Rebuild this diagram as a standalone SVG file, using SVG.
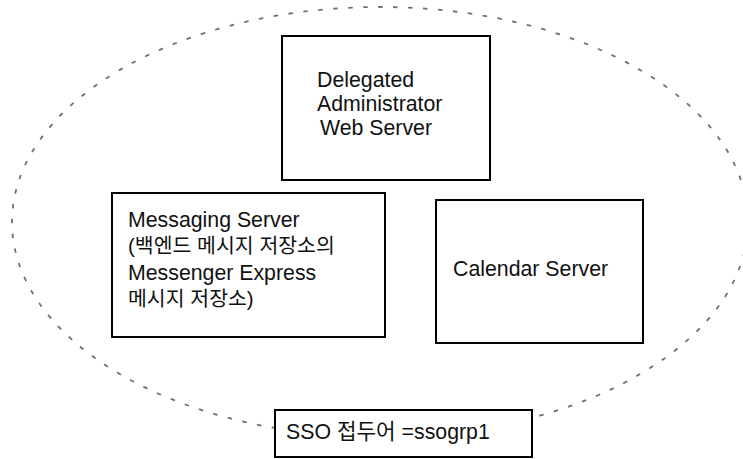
<svg xmlns="http://www.w3.org/2000/svg" width="743" height="459" viewBox="0 0 743 459">
<style>
.box{fill:#fff;stroke:#000;stroke-width:2}
.t{font-family:"Liberation Sans","Noto Sans CJK KR",sans-serif;font-size:21.3px;fill:#111}
.k{font-size:20.5px}
.ring{fill:none;stroke:#707070;stroke-width:1.8;stroke-dasharray:4.5 10.5}
</style>
<rect width="743" height="459" fill="#fff"/>
<g id="connectors">
<ellipse class="ring" cx="380" cy="222" rx="368" ry="215"/>
</g>
<g id="delegated">
<rect class="box" x="282" y="36" width="208" height="144"/>
<text class="t" x="317" y="87">Delegated</text>
<text class="t" x="317" y="111">Administrator</text>
<text class="t" x="320" y="135">Web Server</text>
</g>
<g id="messaging">
<rect class="box" x="112" y="193" width="273" height="144"/>
<text class="t" x="128" y="227">Messaging Server</text>
<text class="t k" x="128" y="253">(백엔드 메시지 저장소의</text>
<text class="t" x="128" y="280">Messenger Express</text>
<text class="t k" x="128" y="306">메시지 저장소)</text>
</g>
<g id="calendar">
<rect class="box" x="436" y="200" width="207" height="143"/>
<text class="t" x="453" y="276">Calendar Server</text>
</g>
<g id="sso">
<rect class="box" x="275" y="410" width="257" height="47"/>
<text class="t" x="286" y="439">SSO 접두어 =ssogrp1</text>
</g>
</svg>
